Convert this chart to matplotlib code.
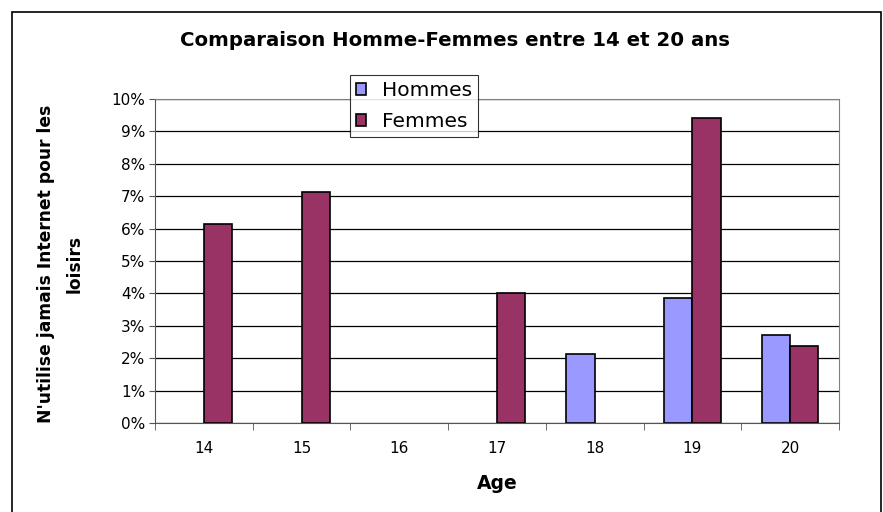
import matplotlib
matplotlib.use("Agg")
import matplotlib.pyplot as plt
from matplotlib.patches import Rectangle
import numpy as np

# data (nan = no bar)
ages = ["14", "15", "16", "17", "18", "19", "20"]
hommes = [np.nan, np.nan, np.nan, np.nan, 2.14, 3.85, 2.72]
femmes = [6.14, 7.14, np.nan, 4.0, np.nan, 9.42, 2.39]

plt.rcParams['font.family'] = ['DejaVu Sans']

fig = plt.figure(figsize=(8.83, 5.12), dpi=100)
fig.patch.set_facecolor('white')

# outer chart frame
fig.patches.append(Rectangle((12/883, -0.01), (881-12)/883, 1 - 12/512 + 0.01,
                             transform=fig.transFigure, fill=False,
                             edgecolor='black', linewidth=1.2))

ax = fig.add_axes([155/883, 1 - 423/512, (839-155)/883, (423-99)/512])

x = np.arange(len(ages))
w = 0.29
ax.bar(x - w/2, hommes, w, color='#9999ff', edgecolor='black', linewidth=1.2,
       label='Hommes', zorder=3)
ax.bar(x + w/2, femmes, w, color='#993366', edgecolor='black', linewidth=1.2,
       label='Femmes', zorder=3)

ax.set_xlim(-0.5, len(ages) - 0.5)
ax.set_ylim(0, 10)
ax.set_yticks(np.arange(0, 11, 1))
ax.set_yticklabels(["{}%".format(i) for i in range(11)], fontsize=11)
ax.yaxis.grid(True, color='black', linewidth=0.9, zorder=0)
ax.set_axisbelow(True)

ax.set_xticks(x)
ax.set_xticklabels(ages, fontsize=11)
ax.set_xticks(np.arange(-0.5, len(ages)), minor=True)
ax.tick_params(axis='x', which='major', length=0, pad=13)
ax.tick_params(axis='x', which='minor', length=5, direction='out', color='#555555')
ax.tick_params(axis='y', length=4, direction='out', color='#555555', pad=3)

for side in ['top', 'right']:
    ax.spines[side].set_color('#808080')
ax.spines['left'].set_color('#555555')
ax.spines['bottom'].set_color('#555555')

ax.set_xlabel("Age", fontsize=13.5, fontweight='bold', labelpad=13)
ax.set_ylabel("N'utilise jamais Internet pour les\nloisirs", fontsize=12.3,
              fontweight='bold', linespacing=1.75)
ax.yaxis.set_label_coords(-0.105, 0.49)

fig.text(455/883, 1 - 40/512, "Comparaison Homme-Femmes entre 14 et 20 ans",
         ha='center', va='center', fontsize=14.2, fontweight='bold')

leg = ax.legend(loc='upper left', bbox_to_anchor=((350-155)/684, (423-75)/324),
                fontsize=14.5, frameon=True, fancybox=False, edgecolor='black',
                handlelength=0.5, handleheight=0.5, handletextpad=0.8,
                borderpad=0.3, labelspacing=0.6, borderaxespad=0)
leg.get_frame().set_linewidth(0.8)
leg.set_zorder(5)

fig.savefig("out.png", dpi=100)
